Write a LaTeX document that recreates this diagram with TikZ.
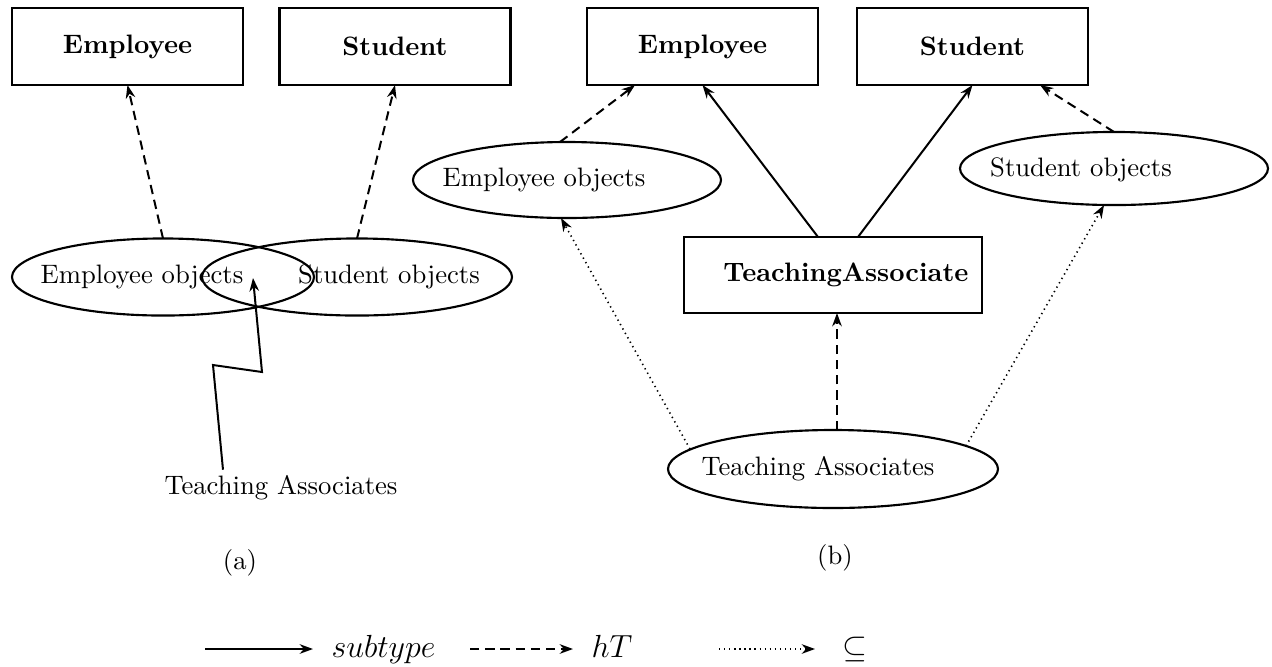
\documentclass[tikz,border=0pt]{standalone}
\usetikzlibrary{shapes.geometric,arrows.meta,calc}
\begin{document}
\begin{tikzpicture}[x=0.375pt,y=-0.375pt,
  box/.style={draw,line width=1pt,rectangle,minimum width=86.6pt,minimum height=28.9pt,inner sep=0pt,outer sep=0pt,font=\bfseries},
  oval/.style={draw,line width=0.8pt,ellipse,inner sep=0pt,outer sep=0pt},
  txt/.style={inner sep=0pt,outer sep=0pt},
  tip/.style={-{Stealth[length=5pt,width=3.6pt]}},
  sub/.style={tip,line width=0.75pt},
  ht/.style={tip,line width=0.75pt,dash pattern=on 3.5pt off 2.2pt},
  incl/.style={tip,line width=0.6pt,dash pattern=on 0.5pt off 1.4pt},
  leg/.style={inner sep=0pt,anchor=base west,font=\large},
]
\useasboundingbox (0,0) rectangle (1272,666);

% ---------- (a) ----------
\node[box] (eb1) at (127.5,46.5) {Employee};
\node[box] (sb1) at (395,46.5) {Student};
\node[oval,minimum width=113.25pt,minimum height=28.9pt] (eo1) at (163,277) {};
\node[oval,minimum width=116.25pt,minimum height=28.9pt] (so1) at (357,277) {};
\node[txt] (eo1t) at (142,277) {Employee objects};
\node[txt] (so1t) at (389,277) {Student objects};
\node[txt] (ta1) at (281,488) {Teaching Associates};
\node[txt] (capa) at (240,563) {(a)};

\draw[ht] (eo1.north) -- (eb1.south);
\draw[ht] (so1.north) -- (sb1.south);

\coordinate (z1) at (213,365);
\coordinate (z2) at (262,372);
\coordinate (z3) at (253,278);
\draw[sub] ($(ta1.north)+(-58,-6)$) -- (z1) -- (z2) -- (z3);

% ---------- (b) ----------
\node[box] (eb2) at (702.5,46.5) {Employee};
\node[box] (sb2) at (972.5,46.5) {Student};
\node[oval,minimum width=115.5pt,minimum height=28.5pt] (eo2) at (567,180) {};
\node[txt] (eo2t) at (544,180) {Employee objects};
\node[oval,minimum width=115.5pt,minimum height=27.4pt] (so2) at (1114,168.5) {};
\node[txt] (so2t) at (1081,170) {Student objects};
\node[box,minimum width=111.75pt,minimum height=28.5pt] (tab) at (833,275) {\hspace*{9.75pt}TeachingAssociate};
\node[oval,minimum width=123.75pt,minimum height=29.25pt] (tae) at (833,469) {};
\node[txt] (tae2) at (818,469) {Teaching Associates};
\node[txt] (capb) at (835,558) {(b)};

\draw[sub] ($(tab.north)+(-15,0)$) -- (eb2.south);
\draw[sub] ($(tab.north)+(25,0)$) -- (sb2.south);
\draw[ht] ($(eo2.north)+(-7,0)$) -- ($(eb2.south west)+(48,0)$);
\draw[ht] (so2.north) -- ($(sb2.south west)+(183,0)$);
\draw[ht] ($(tae.north)+(4,0)$) -- ($(tab.south)+(4,0)$);
\draw[incl] ($(tae.center)+(-143,-20)$) -- ($(eo2.south)+(-6,0)$);
\draw[incl] ($(tae.center)+(133,-23)$) -- ($(so2.south)+(-10,0)$);

% ---------- legend ----------
\coordinate (l1a) at (205,649);
\coordinate (l1b) at (313,649);
\coordinate (l2a) at (470,649);
\coordinate (l2b) at (573,649);
\coordinate (l3a) at (719,649);
\coordinate (l3b) at (815,649);
\draw[sub] (l1a) -- (l1b);
\draw[ht] (l2a) -- (l2b);
\draw[incl] (l3a) -- (l3b);
\node[leg] (lsub) at (331,657) {$subtype$};
\node[leg] (lht) at (591,657) {$hT$};
\node[leg] (lsq) at (842,657) {$\subseteq$};
\end{tikzpicture}
\end{document}
